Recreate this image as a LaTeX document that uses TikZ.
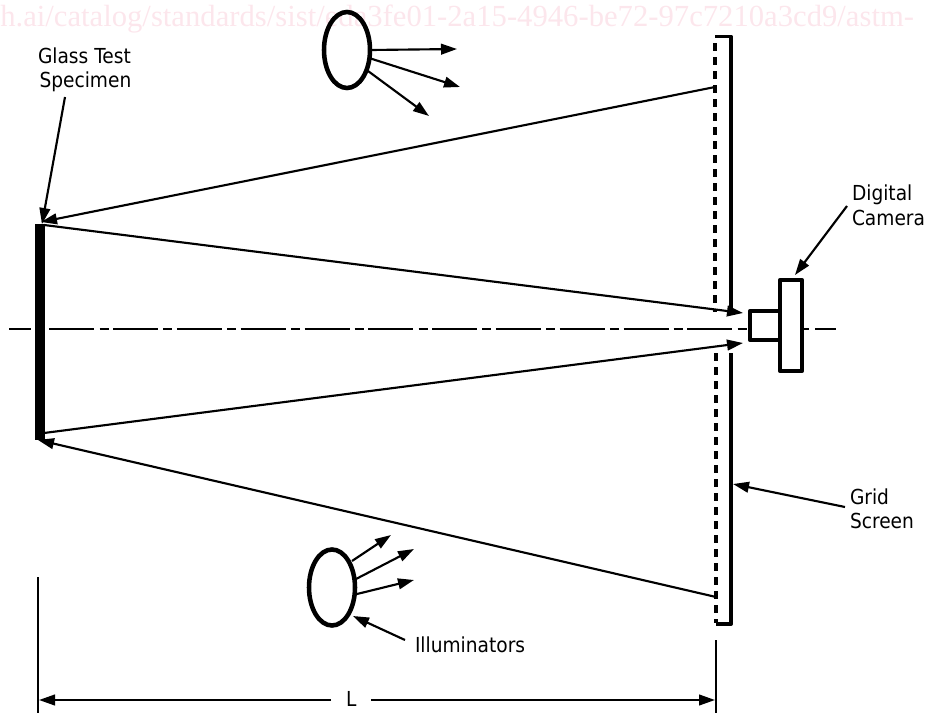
\documentclass[tikz,border=0pt]{standalone}
\usepackage{fontspec}
\setmainfont{DejaVu Sans}[FakeStretch=0.9]
\newfontfamily\wmfont{Liberation Serif}
\usetikzlibrary{arrows.meta,shapes.geometric}
\definecolor{wm}{HTML}{FCE6EC}
\tikzset{
  x=0.75pt,y=-0.75pt,
  heavy/.style={line width=2.9pt,line join=round,black},
  thinline/.style={line width=1.5pt,black},
  arr/.style={line width=1.6pt,black,-{Triangle[length=12pt,width=8pt]}},
  lamp/.style={ellipse,draw,line width=3.4pt,minimum width=34.5pt,minimum height=57pt,inner sep=0pt,outer sep=0pt},
  camerabox/.style={rectangle,draw,line width=2.9pt,line join=round,inner sep=0pt,outer sep=0pt,fill=white},
  lbl/.style={anchor=base west,inner sep=0pt,outer sep=0pt,font=\fontsize{15.5pt}{18pt}\selectfont},
}
\begin{document}
\begin{tikzpicture}
\useasboundingbox (0,0) rectangle (925,713);
\node[anchor=base west,inner sep=0pt,text=wm,font=\wmfont\fontsize{23pt}{28pt}\selectfont] (wmtext) at (0,27) {h.ai/catalog/standards/sist/eda3fe01-2a15-4946-be72-97c7210a3cd9/astm-};

% centre line
\coordinate (cA) at (9,329); \coordinate (cB) at (31,329);
\coordinate (cC) at (49.3,329); \coordinate (cD) at (747,329);
\coordinate (cE) at (804,329); \coordinate (cF) at (809,329);
\coordinate (cG) at (815,329); \coordinate (cH) at (836,329);
\draw[thinline] (cA) -- (cB) (cE) -- (cF) (cG) -- (cH);
\draw[thinline,dash pattern=on 33.75pt off 3.9pt on 6.75pt off 3.45pt] (cC) -- (cD);

% specimen
\node[rectangle,fill=black,inner sep=0pt,outer sep=0pt,minimum width=7.5pt,minimum height=162pt] (spec) at (40,332) {};

% grid screen
\coordinate (sTL) at (715,36.5); \coordinate (sTR) at (731,36.5);
\coordinate (sM1) at (731,314); \coordinate (sM2) at (731,353);
\coordinate (sBR) at (731,624); \coordinate (sBL) at (716,624);
\coordinate (dM1) at (715,312); \coordinate (dM2) at (716,353);
\draw[heavy] (sTL) -- (sTR) -- (sM1);
\draw[heavy] (sM2) -- (sBR) -- (sBL);
\draw[heavy,dash pattern=on 6pt off 4.5pt] ([yshift=-5.2pt]sTL) -- (dM1);
\draw[heavy,dash pattern=on 6pt off 4.5pt] (dM2) -- ([yshift=1pt]sBL);

% camera
\node[camerabox,minimum width=22.5pt,minimum height=22pt] (lens) at (765,325.5) {};
\node[camerabox,minimum width=16.5pt,minimum height=68.5pt] (body) at (791,325.5) {};

% lamps
\node[lamp] (lampT) at (347,50) {};
\node[lamp] (lampB) at (332,587.5) {};

% rays
\coordinate (r1s) at (715,87); \coordinate (r1e) at (41,222);
\coordinate (r2s) at (44,225); \coordinate (r2e) at (743,313);
\coordinate (r3s) at (44,433); \coordinate (r3e) at (743,343);
\coordinate (r4s) at (716,597); \coordinate (r4e) at (38,440);
\draw[arr] (r1s) -- (r1e);
\draw[arr] (r2s) -- (r2e);
\draw[arr] (r3s) -- (r3e);
\draw[arr] (r4s) -- (r4e);

% lamp beams
\coordinate (t1s) at (371,50); \coordinate (t1e) at (457,49);
\coordinate (t2s) at (369,58); \coordinate (t2e) at (460,87);
\coordinate (t3s) at (368,71); \coordinate (t3e) at (429,116);
\draw[arr] (t1s) -- (t1e);
\draw[arr] (t2s) -- (t2e);
\draw[arr] (t3s) -- (t3e);
\coordinate (b1s) at (352,561); \coordinate (b1e) at (391,535);
\coordinate (b2s) at (356,579); \coordinate (b2e) at (414,549);
\coordinate (b3s) at (357,594); \coordinate (b3e) at (414,580);
\draw[arr] (b1s) -- (b1e);
\draw[arr] (b2s) -- (b2e);
\draw[arr] (b3s) -- (b3e);

% labels
\node[lbl] (lGlass) at (38,64) {Glass Test};
\node[lbl] (lSpec) at (39.5,88) {Specimen};
\node[lbl] (lDig) at (852,201) {Digital};
\node[lbl] (lCam) at (852,225) {Camera};
\node[lbl] (lGrid) at (850,504) {Grid};
\node[lbl] (lScr) at (850,528) {Screen};
\node[lbl] (lIll) at (415,652) {Illuminators};
\node[lbl] (lL) at (346,706) {L};

% leaders
\coordinate (g1) at (65,97); \coordinate (g2) at (42,224);
\draw[arr] (g1) -- (g2);
\coordinate (d1) at (847,206); \coordinate (d2) at (795,275);
\draw[arr] (d1) -- (d2);
\coordinate (s1) at (845,507); \coordinate (s2) at (733,484);
\draw[arr] (s1) -- (s2);
\coordinate (i1) at (405,640); \coordinate (i2) at (353,616);
\draw[arr] (i1) -- (i2);

% dimension
\coordinate (x1a) at (37.5,577); \coordinate (x1b) at (37.5,713);
\coordinate (x2a) at (716,640); \coordinate (x2b) at (716,713);
\draw[thinline] (x1a) -- (x1b);
\draw[thinline] (x2a) -- (x2b);
\coordinate (dl) at (39,700); \coordinate (dlg) at (331,700);
\coordinate (dr) at (715,700); \coordinate (drg) at (371,700);
\draw[arr] (dlg) -- (dl);
\draw[arr] (drg) -- (dr);
\end{tikzpicture}
\end{document}
